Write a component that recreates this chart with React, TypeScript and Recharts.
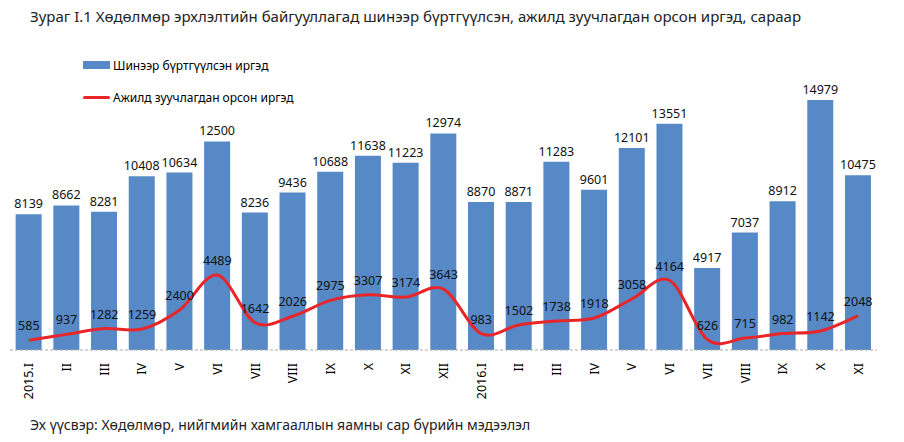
import React from "react";
import { ComposedChart, Bar, Line, XAxis, YAxis, LabelList } from "recharts";

const categories = ["2015.I", "II", "III", "IV", "V", "VI", "VII", "VIII", "IX", "X", "XI", "XII", "2016.I", "II", "III", "IV", "V", "VI", "VII", "VIII", "IX", "X", "XI"];
const registered = [8139, 8662, 8281, 10408, 10634, 12500, 8236, 9436, 10688, 11638, 11223, 12974, 8870, 8871, 11283, 9601, 12101, 13551, 4917, 7037, 8912, 14979, 10475];
const employed = [585, 937, 1282, 1259, 2400, 4489, 1642, 2026, 2975, 3307, 3174, 3643, 983, 1502, 1738, 1918, 3058, 4164, 626, 715, 982, 1142, 2048];

const seriesNames = ["Шинээр бүртгүүлсэн иргэд", "Ажилд зуучлагдан орсон иргэд"];
const title = "Зураг I.1 Хөдөлмөр эрхлэлтийн байгууллагад шинээр бүртгүүлсэн, ажилд зуучлагдан орсон иргэд, сараар";
const source = "Эх үүсвэр: Хөдөлмөр, нийгмийн хамгааллын яамны сар бүрийн  мэдээлэл";

const data = categories.map((c, i) => ({ key: i, cat: c, reg: registered[i], emp: employed[i] }));

const BLUE = "#5689c6";
const RED = "#e8262a";
const FONT = "'Noto Sans', 'Open Sans', sans-serif";

// Catmull-Rom style smoothing similar to Excel's smoothed line
const smoothCurve = (context: any) => {
  let pts: [number, number][] = [];
  return {
    areaStart() {},
    areaEnd() {},
    lineStart() { pts = []; },
    point(x: number, y: number) { pts.push([+x, +y]); },
    lineEnd() {
      if (!pts.length) return;
      context.moveTo(pts[0][0], pts[0][1]);
      const t = 1 / 6;
      for (let i = 0; i < pts.length - 1; i++) {
        const p0 = pts[i - 1] || pts[i];
        const p1 = pts[i];
        const p2 = pts[i + 1];
        const p3 = pts[i + 2] || p2;
        context.bezierCurveTo(
          p1[0] + (p2[0] - p0[0]) * t, p1[1] + (p2[1] - p0[1]) * t,
          p2[0] - (p3[0] - p1[0]) * t, p2[1] - (p3[1] - p1[1]) * t,
          p2[0], p2[1]
        );
      }
    },
  };
};

const Tick = (props: any) => {
  const { x, y, payload } = props;
  const label = categories[payload.value] ?? "";
  return (
    <text x={x} y={y + 5} transform={`rotate(-90, ${x}, ${y + 5})`} textAnchor="end" dominantBaseline="central" fontSize={12.5} fill="#000" fontFamily={FONT}>
      {label}
    </text>
  );
};

export default function App() {
  return (
    <div style={{ position: "absolute", left: 0, top: 0, width: 904, height: 442, background: "#fff", overflow: "hidden" }}>
      <div style={{ position: "absolute", left: 30, top: 6, fontFamily: FONT, fontSize: 15, color: "#222", whiteSpace: "nowrap" }}>{title}</div>
      <div style={{ position: "absolute", left: 83, top: 55, fontFamily: FONT, fontSize: 12, color: "#000", whiteSpace: "nowrap" }}>
        <div style={{ display: "flex", alignItems: "center", height: 20 }}>
          <span style={{ display: "inline-block", width: 27, height: 8, background: BLUE, marginRight: 3 }} />
          <span>{seriesNames[0]}</span>
        </div>
        <div style={{ display: "flex", alignItems: "center", height: 20, marginTop: 12 }}>
          <span style={{ display: "inline-block", width: 27, height: 3, background: RED, marginRight: 3, borderRadius: 2 }} />
          <span>{seriesNames[1]}</span>
        </div>
      </div>
      <div style={{ position: "absolute", left: 0, top: 0 }}>
        <ComposedChart width={904} height={442} data={data} margin={{ top: 83, right: 27, bottom: 32, left: 10 }} barCategoryGap="15%">
          <XAxis dataKey="key" type="category" interval={0} tickLine={false} height={60} tick={<Tick />} axisLine={{ stroke: "#aaa", strokeDasharray: "3 2" }} />
          <YAxis hide domain={[0, 16000]} />
          <Bar dataKey="reg" name={seriesNames[0]} fill={BLUE} isAnimationActive={false}>
            <LabelList dataKey="reg" position="top" offset={6} fontSize={12.5} fill="#111" fontFamily={FONT} />
          </Bar>
          <Line dataKey="emp" name={seriesNames[1]} type={smoothCurve as any} stroke={RED} strokeWidth={3} dot={false} activeDot={false} isAnimationActive={false}>
            <LabelList dataKey="emp" position="top" offset={10} fontSize={12.5} fill="#111" fontFamily={FONT} />
          </Line>
        </ComposedChart>
      </div>
      <div style={{ position: "absolute", left: 30, top: 415, fontFamily: FONT, fontSize: 14, color: "#222", whiteSpace: "nowrap" }}>{source}</div>
    </div>
  );
}
